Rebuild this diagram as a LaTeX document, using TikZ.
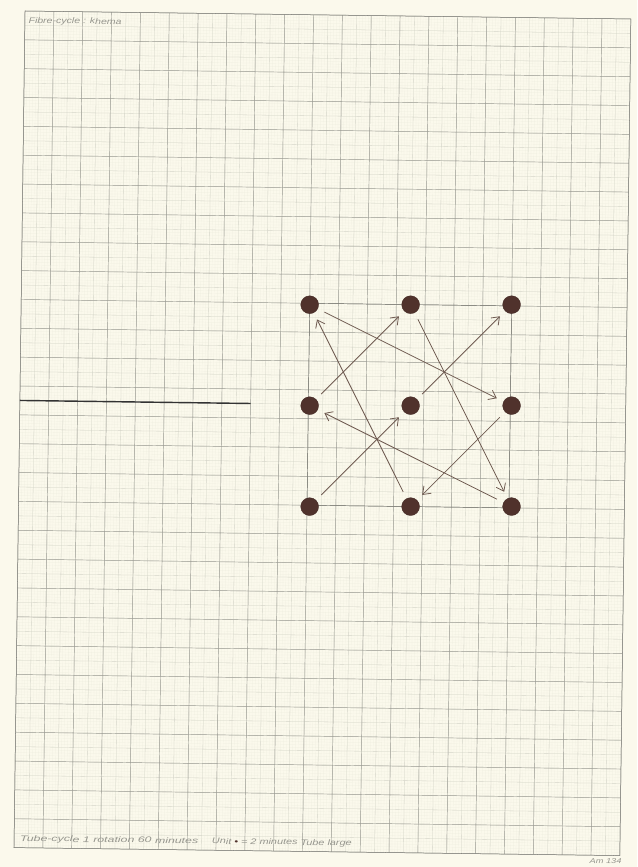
\documentclass[tikz,border=0pt]{standalone}
\usepackage{fontspec}
\setmainfont{Liberation Sans}
\usepackage{tikz}
\usetikzlibrary{arrows.meta, positioning}
\definecolor{paperbg}{RGB}{251, 249, 236}
\definecolor{gridmajor}{RGB}{158, 158, 150}
\definecolor{gridhalf}{RGB}{214, 214, 202}
\definecolor{gridfine}{RGB}{239, 238, 224}
\definecolor{inkbrown}{RGB}{80, 50, 44}
\definecolor{arrowbrown}{RGB}{112, 92, 82}
\definecolor{pencilgray}{RGB}{150, 150, 142}

\begin{document}
\begin{tikzpicture}[node distance=3.5cm, on grid,
    dot/.style={circle, fill=inkbrown, draw=inkbrown!80!black, line width=0.3pt, minimum size=0.62cm, inner sep=0pt, outer sep=0.26cm},
    move/.style={draw=arrowbrown, line width=0.8pt, -{Straight Barb[length=2.4mm, width=3.6mm]}},
    pencil/.style={font=\fontsize{8}{8}\selectfont\itshape, text=pencilgray, inner sep=0pt, xscale=1.3, transform shape}]

    % paper
    \fill[paperbg] (-0.867,0.381) rectangle (21.213,-29.669);
    \useasboundingbox (-0.867,0.381) rectangle (21.213,-29.669);

  \begin{scope}[rotate=-0.755]
    % graph paper
    \draw[gridfine, line width=0.2pt] (0,-29) grid[step=0.1] (21,0);
    \draw[gridhalf, line width=0.3pt] (0,-29) grid[step=0.5] (21,0);
    \draw[gridmajor, line width=0.45pt] (0,-29) grid[step=1] (21,0);
    \draw[gridmajor!85!black, line width=0.5pt] (0,-29) rectangle (21,0);

    % pencil frame of the field
    \draw[gridmajor!75!black, line width=0.45pt] (10,-10) rectangle (17,-17);

    % rotation line
    \draw[black!80, line width=1.4pt] (0,-13.5) coordinate (lineA) -- (8,-13.5) coordinate (lineB);

    % the nine positions
    \node [dot] (tl) at (10,-10.05) {};
    \node [dot, right=of tl] (tm) {};
    \node [dot, right=of tm] (tr) {};
    \node [dot, below=of tl] (ml) {};
    \node [dot, right=of ml] (mm) {};
    \node [dot, right=of mm] (mr) {};
    \node [dot, below=of ml] (bl) {};
    \node [dot, right=of bl] (bm) {};
    \node [dot, right=of bm] (br) {};

    \path [move] (ml) -- (tm);
    \path [move] (tl) -- (mr);
    \path [move] (bm) -- (tl);
    \path [move] (tm) -- (br);
    \path [move] (mm) -- (tr);
    \path [move] (bl) -- (mm);
    \path [move] (br) -- (ml);
    \path [move] (mr) -- (bm);

    % handwriting
    \node [pencil, anchor=base west] (title) at (0.12,-0.42) {Fibre-cycle : khema};
    \node [pencil, xscale=1.17, anchor=base west] (legendA) at (0.2,-28.78) {Tube-cycle 1 rotation 60 minutes};
    \node [pencil, xscale=1.03, anchor=base west] (legendB) at (6.85,-28.78) {Unit {\color{inkbrown}\textbullet} = 2 minutes Tube large};
    \node [pencil, font=\fontsize{7}{7}\selectfont\itshape, anchor=base west] (sign) at (19.95,-29.28) {Am 134};
  \end{scope}
\end{tikzpicture}
\end{document}
